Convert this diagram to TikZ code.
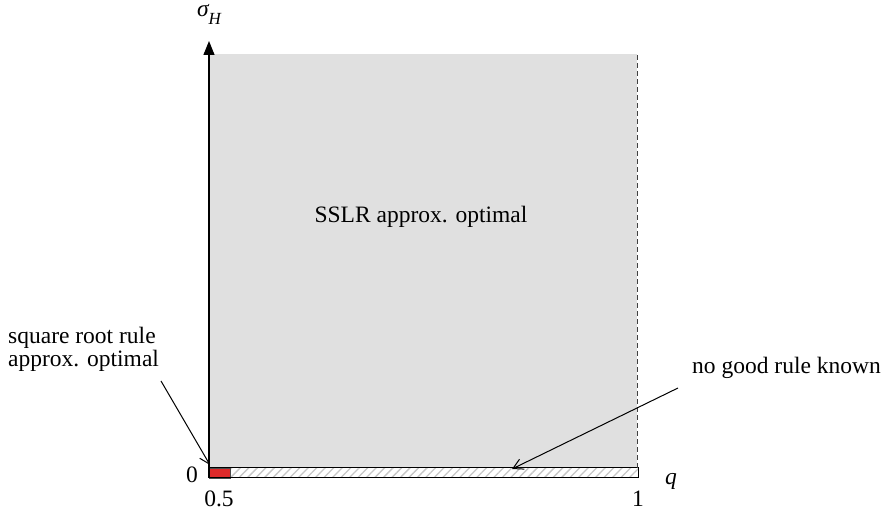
\documentclass[tikz,border=0pt]{standalone}
\usepackage{fontspec}
\setmainfont{Liberation Serif}
\usetikzlibrary{arrows.meta,patterns.meta}
\definecolor{boxred}{RGB}{222,42,42}
\begin{document}
\begin{tikzpicture}[x=1pt,y=1pt,
  lbl/.style={font=\fontsize{23.5}{23}\selectfont, inner sep=0pt},
  ann/.style={-{Straight Barb[length=10pt,width=11pt]}, line width=1pt},
]
\useasboundingbox (0,0) rectangle (891,513);
% gray region
\fill[gray!24] (210,45) rectangle (637,459);
% strip
\fill[pattern={Lines[angle=45,distance=6pt,line width=1.3pt]}, pattern color=gray!45] (209,35) rectangle (638,45);
\fill[boxred, draw=black!70, line width=0.6pt] (209,35) rectangle (230,45);
\draw[line width=1pt] (209,35) rectangle (638,45);
\draw[dash pattern=on 5pt off 3pt, line width=1pt, black!75] (637,45) -- (637,459);
% axis
\coordinate (o) at (209,35);
\coordinate (top) at (209,472);
\draw[line width=1.2pt, -{Triangle[length=14pt,width=11pt]}] (o) -- (top);
% labels
\node[lbl, anchor=base] (sig) at (209,496) {\itshape σ\raisebox{-0.3em}{\fontsize{17}{17}\selectfont H}};
\node[lbl, anchor=base] (zero) at (192,30) {0};
\node[lbl, anchor=base] (half) at (219,6) {0.5};
\node[lbl, anchor=base] (one) at (638,6) {1};
\node[lbl, anchor=base] (q) at (671,28) {\itshape q};
\node[lbl, anchor=base] (sslr) at (421,290) {SSLR approx. optimal};
\node[lbl, anchor=base west] (srr1) at (8,169) {square root rule};
\node[lbl, anchor=base west] (srr2) at (8,146) {approx. optimal};
\node[lbl, anchor=base west] (ngr) at (692,139) {no good rule known};
\coordinate (srrtail) at (161,132);
\coordinate (srrhead) at (210,48);
\coordinate (ngrtail) at (678,125);
\coordinate (ngrhead) at (512,44);
\draw[ann] (srrtail) -- (srrhead);
\draw[ann] (ngrtail) -- (ngrhead);
\end{tikzpicture}
\end{document}
